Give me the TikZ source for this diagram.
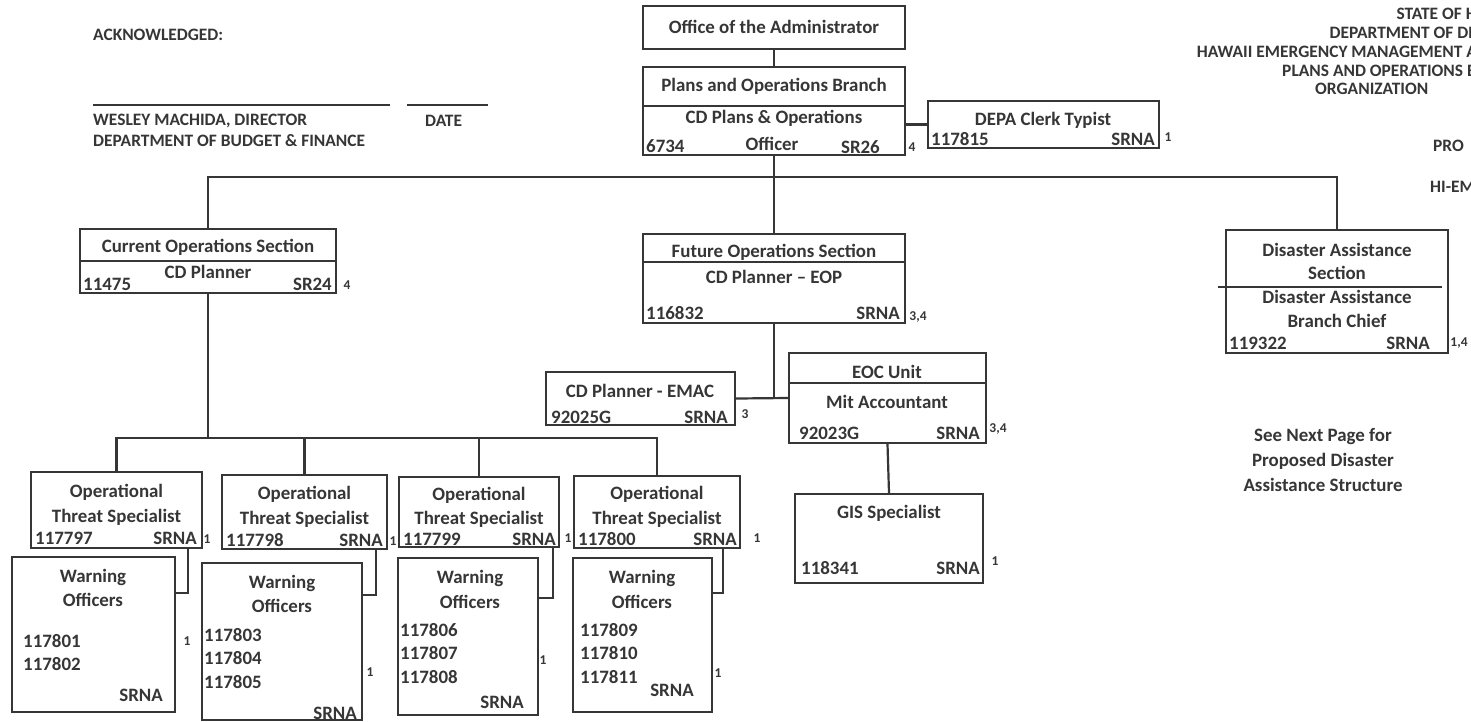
\documentclass[tikz,border=0pt]{standalone}
\usepackage{fontspec}
\setmainfont{Carlito}
\usetikzlibrary{calc}
\definecolor{ink}{HTML}{363636}
\begin{document}
\begin{tikzpicture}[x=1pt,y=-1pt,
  box/.style={draw=ink, line width=2.2pt, rectangle, inner sep=0pt},
  conn/.style={draw=ink, line width=2.2pt},
  sig/.style={draw=ink, line width=1.6pt},
  txt/.style={text=ink, inner sep=0pt, font=\fontsize{18.9}{20}\selectfont\bfseries},
  hd/.style={text=ink, inner sep=0pt, font=\fontsize{17.4}{19}\selectfont\bfseries},
  fn/.style={text=ink, inner sep=0pt, font=\fontsize{13.5}{14}\selectfont\bfseries}]
\useasboundingbox (0,0) rectangle (1471,721);
\fill[white] (0,0) rectangle (1471,721);
\begin{scope}
\clip (0,0) rectangle (1471,721);

% ---- left header
\node[hd, anchor=west] (ack) at (93,35) {ACKNOWLEDGED:};
\coordinate (s1a) at (93,105); \coordinate (s1b) at (390,105);
\coordinate (s2a) at (407,105); \coordinate (s2b) at (488,105);
\draw[sig] (s1a) -- (s1b);
\draw[sig] (s2a) -- (s2b);
\node[hd, anchor=west] (wes) at (93,121) {WESLEY MACHIDA, DIRECTOR};
\node[hd, anchor=west] (date) at (425,121) {DATE};
\node[hd, anchor=west] (dbf) at (93,141) {DEPARTMENT OF BUDGET \& FINANCE};

% ---- right header (cut by the page edge)
\node[hd, anchor=east] (h1) at (1477,14) {STATE OF H};
\node[hd, anchor=east] (h2) at (1477,33) {DEPARTMENT OF DE};
\node[hd, anchor=east] (h3) at (1477,52) {HAWAII EMERGENCY MANAGEMENT A};
\node[hd, anchor=east] (h4) at (1477,71) {PLANS AND OPERATIONS B};
\node[hd, anchor=west] (h5) at (1315,89) {ORGANIZATION};
\node[hd, anchor=west] (h6) at (1433,146) {PRO};
\node[hd, anchor=west] (h7) at (1430,187) {HI-EM};

% ---- boxes
\node[box, minimum width=262pt, minimum height=43pt] (ofa) at (774,27.5) {};
\node[box, minimum width=262pt, minimum height=88pt] (pob) at (774,111) {};
\node[box, minimum width=231pt, minimum height=47pt] (depa) at (1043.5,124.5) {};
\node[box, minimum width=256pt, minimum height=64pt] (cur) at (208,261) {};
\node[box, minimum width=262pt, minimum height=89pt] (fos) at (774,278.5) {};
\node[box, minimum width=222pt, minimum height=123pt] (dis) at (1337,291.5) {};
\node[box, minimum width=189pt, minimum height=53pt] (emac) at (640.5,398.5) {};
\node[box, minimum width=197pt, minimum height=90pt] (eoc) at (887.5,398) {};
\node[box, minimum width=188pt, minimum height=89pt] (gis) at (889,538.5) {};
\node[box, minimum width=171pt, minimum height=76pt] (ots1) at (116.5,510) {};
\node[box, minimum width=165pt, minimum height=74pt] (ots2) at (304.5,512) {};
\node[box, minimum width=160pt, minimum height=70pt] (ots3) at (479,512) {};
\node[box, minimum width=166pt, minimum height=72pt] (ots4) at (657,512) {};
\node[box, minimum width=163pt, minimum height=155pt] (wo1) at (93.5,634.5) {};
\node[box, minimum width=160pt, minimum height=157pt] (wo2) at (282,641.5) {};
\node[box, minimum width=140pt, minimum height=157pt] (wo3) at (468,636.5) {};
\node[box, minimum width=139pt, minimum height=154pt] (wo4) at (642.5,635) {};

% dividers
\draw[conn] (pob.west |- 0,106) -- (pob.east |- 0,106);
\draw[conn] (cur.west |- 0,261) -- (cur.east |- 0,261);
\draw[conn] (fos.west |- 0,262) -- (fos.east |- 0,262);
\draw[conn] (eoc.west |- 0,383) -- (eoc.east |- 0,383);
\coordinate (dvl) at (1218,287); \coordinate (dvr) at (1442,287);
\draw[conn] (dvl) -- (dvr);

% ---- texts
\node[txt] (tofa) at (774,27) {Office of the Administrator};
\node[txt] (tpob) at (774,86) {Plans and Operations Branch};
\node[txt] (tpob2) at (774,118) {CD Plans \& Operations};
\node[txt, anchor=west] (tpob3) at (646,146) {6734};
\node[txt] (tpob4) at (772,144) {Officer};
\node[txt, anchor=east] (tpob5) at (880,147) {SR26};
\node[fn] (fpob) at (912,147) {4};

\node[txt] (tdepa) at (1043,120) {DEPA Clerk Typist};
\node[txt, anchor=west] (tdepa2) at (931,139) {117815};
\node[txt, anchor=east] (tdepa3) at (1155,139) {SRNA};
\node[fn] (fdepa) at (1168,137) {1};

\node[txt] (tcur) at (208,247) {Current Operations Section};
\node[txt] (tcur2) at (208,272) {CD Planner};
\node[txt, anchor=west] (tcur3) at (83,284) {11475};
\node[txt, anchor=east] (tcur4) at (332,284) {SR24};
\node[fn] (fcur) at (347,285) {4};

\node[txt] (tfos) at (774,252) {Future Operations Section};
\node[txt] (tfos2) at (774,277) {CD Planner – EOP};
\node[txt, anchor=west] (tfos3) at (646,313) {116832};
\node[txt, anchor=east] (tfos4) at (900,313) {SRNA};
\node[fn] (ffos) at (918,317) {3,4};

\node[txt] (tdis) at (1337,250) {Disaster Assistance};
\node[txt] (tdis2) at (1337,273) {Section};
\node[txt] (tdis3) at (1337,297) {Disaster Assistance};
\node[txt] (tdis4) at (1337,321) {Branch Chief};
\node[txt, anchor=west] (tdis5) at (1229,343) {119322};
\node[txt, anchor=east] (tdis6) at (1430,343) {SRNA};
\node[fn] (fdis) at (1459,343) {1,4};

\node[txt] (see1) at (1323,437) {See Next Page for};
\node[txt] (see2) at (1323,461) {Proposed Disaster};
\node[txt] (see3) at (1323,485) {Assistance Structure};

\node[txt] (temac) at (640,391) {CD Planner - EMAC};
\node[txt, anchor=west] (temac2) at (551,417) {92025G};
\node[txt, anchor=east] (temac3) at (728,417) {SRNA};
\node[fn] (femac) at (745,414) {3};

\node[txt] (teoc) at (887,372) {EOC Unit};
\node[txt] (teoc2) at (887,402) {Mit Accountant};
\node[txt, anchor=west] (teoc3) at (799,433) {92023G};
\node[txt, anchor=east] (teoc4) at (980,433) {SRNA};
\node[fn] (feoc) at (998,429) {3,4};

\node[txt] (tgis) at (889,513) {GIS Specialist};
\node[txt, anchor=west] (tgis2) at (801,568) {118341};
\node[txt, anchor=east] (tgis3) at (980,568) {SRNA};
\node[fn] (fgis) at (995,561) {1};

% operational threat specialists
\node[txt] (o1a) at (116.5,492) {Operational};
\node[txt] (o1b) at (116.5,517) {Threat Specialist};
\node[txt, anchor=west] (o1c) at (35,538) {117797};
\node[txt, anchor=east] (o1d) at (197,538) {SRNA};
\node[fn] (fo1) at (207,539) {1};

\node[txt] (o2a) at (304.5,494) {Operational};
\node[txt] (o2b) at (304.5,519) {Threat Specialist};
\node[txt, anchor=west] (o2c) at (226,540) {117798};
\node[txt, anchor=east] (o2d) at (383,540) {SRNA};
\node[fn] (fo2) at (393,541) {1};

\node[txt] (o3a) at (479,495) {Operational};
\node[txt] (o3b) at (479,519) {Threat Specialist};
\node[txt, anchor=west] (o3c) at (403,539) {117799};
\node[txt, anchor=east] (o3d) at (556,539) {SRNA};
\node[fn] (fo3) at (568,538) {1};

\node[txt] (o4a) at (657,494) {Operational};
\node[txt] (o4b) at (657,519) {Threat Specialist};
\node[txt, anchor=west] (o4c) at (578,539) {117800};
\node[txt, anchor=east] (o4d) at (737,539) {SRNA};
\node[fn] (fo4) at (757,538) {1};

% warning officers
\node[txt] (w1a) at (93,577) {Warning};
\node[txt] (w1b) at (93,600) {Officers};
\node[txt, anchor=west] (w1c) at (23,641) {117801};
\node[txt, anchor=west] (w1d) at (23,664) {117802};
\node[txt, anchor=east] (w1e) at (163,695) {SRNA};
\node[fn] (fw1) at (187,641) {1};

\node[txt] (w2a) at (282,583) {Warning};
\node[txt] (w2b) at (282,606) {Officers};
\node[txt, anchor=west] (w2c) at (204,635) {117803};
\node[txt, anchor=west] (w2d) at (204,658) {117804};
\node[txt, anchor=west] (w2e) at (204,682) {117805};
\node[txt, anchor=east] (w2f) at (357,713) {SRNA};
\node[fn] (fw2) at (370,672) {1};

\node[txt] (w3a) at (470,578) {Warning};
\node[txt] (w3b) at (470,602) {Officers};
\node[txt, anchor=west] (w3c) at (400,630) {117806};
\node[txt, anchor=west] (w3d) at (400,653) {117807};
\node[txt, anchor=west] (w3e) at (400,677) {117808};
\node[txt, anchor=east] (w3f) at (524,702) {SRNA};
\node[fn] (fw3) at (543,660) {1};

\node[txt] (w4a) at (642,578) {Warning};
\node[txt] (w4b) at (642,602) {Officers};
\node[txt, anchor=west] (w4c) at (580,630) {117809};
\node[txt, anchor=west] (w4d) at (580,653) {117810};
\node[txt, anchor=west] (w4e) at (580,677) {117811};
\node[txt] (w4f) at (672,690) {SRNA};
\node[fn] (fw4) at (718,673) {1};

% ---- connectors
\coordinate (bus1) at (774,177);
\coordinate (bus2) at (208,438);
\draw[conn] (ofa.south) -- (pob.north);
\draw[conn] (pob.east |- depa.west) -- (depa.west);
\draw[conn] (pob.south) -- (fos.north);
\draw[conn] (cur.north) |- (bus1) -| (dis.north);
\draw[conn] (cur.south) -- (bus2);
\draw[conn] (ots1.north) |- (bus2) -| (ots4.north);
\draw[conn] (ots2.north) -- (ots2.north |- bus2);
\draw[conn] (ots3.north) -- (ots3.north |- bus2);
\draw[conn] (fos.south) -- (fos.south |- emac.east);
\draw[conn] (emac.east) -- (eoc.west);
\draw[conn] (eoc.south) -- (gis.north);
\draw[conn] ($(ots1.south east)+(-15,0)$) |- (wo1.east |- 0,593);
\draw[conn] ($(ots2.south east)+(-12,0)$) |- (wo2.east |- 0,595);
\draw[conn] ($(ots3.south east)+(-7,0)$) |- (wo3.east |- 0,598);
\draw[conn] ($(ots4.south east)+(-18,0)$) |- (wo4.east |- 0,593);
\end{scope}
\end{tikzpicture}
\end{document}
